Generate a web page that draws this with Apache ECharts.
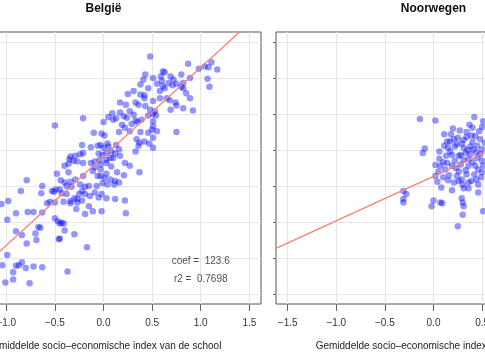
<!DOCTYPE html>
<html><head><meta charset="utf-8">
<script src="https://cdn.jsdelivr.net/npm/echarts@6/dist/echarts.min.js"></script>
<style>html,body{margin:0;padding:0;background:#fff}#c{width:485px;height:360px}</style>
</head><body><div id="c"></div>
<script>
// ---- data ----
const belgiumSES = [0.48,0.61,0.63,0.59,0.87,0.98,1.04,1.08,1.11,1.17,
1.07,1.09,0.80,0.72,0.69,0.51,0.43,0.41,0.38,0.46,
0.55,0.60,0.61,0.58,0.63,0.71,0.75,0.82,0.82,0.89,
0.85,0.89,0.92,0.82,0.74,0.69,0.65,0.58,0.51,0.42,
0.38,0.31,0.25,0.33,0.36,0.23,0.43,0.48,0.53,0.27,
0.31,0.21,0.17,0.24,0.33,0.39,0.51,0.29,0.19,0.22,
0.27,0.38,0.50,0.55,0.51,0.75,0.68,0.75,0.35,0.54,
0.46,0.42,0.51,0.80,0.67,0.09,0.05,0.00,0.10,0.13,
-0.21,-0.50,-0.10,-0.02,0.16,0.17,
0.34,0.37,0.42,0.51,0.51,0.33,0.17,0.22,0.27,0.21,0.37,0.22,0.23,
0.46,0.36,0.47,0.01,0.04,-0.06,-0.03,0.05,0.13,0.00,
0.08,0.03,0.12,0.16,0.10,0.07,-0.01,-0.05,-0.22,-0.13,
-0.21,-0.24,-0.29,-0.34,-0.35,-0.31,-0.27,-0.21,-0.13,-0.09,
-0.04,0.03,-0.36,-0.40,-0.36,-0.48,-0.44,-0.40,-0.34,-0.29,
-0.21,-0.11,-0.09,-0.03,-0.06,-0.03,0.01,0.03,-0.03,0.03,
0.08,0.14,0.12,0.16,0.11,0.04,-0.01,-0.07,-0.79,-0.63,
-0.64,-0.53,-0.51,-0.49,-0.45,-0.38,-0.34,-0.30,-0.27,-0.22,
-0.27,-0.34,-0.41,-0.43,-0.55,-0.58,-0.63,-0.72,-0.78,-0.90,
-0.98,-0.85,-0.19,-0.14,-0.09,-0.15,-0.11,-0.05,0.03,0.12,
-0.19,-0.28,-0.02,-1.05,-0.38,-0.33,-0.24,-0.19,-0.15,0.07,
-0.25,-0.22,-0.02,-0.50,-0.99,-0.67,-0.65,-0.50,-0.47,-0.45,
-0.43,-0.41,-0.40,-0.30,-0.17,-0.46,-0.45,-0.90,-0.84,-0.70,
-0.69,-0.79,-0.99,-1.04,-0.90,-0.87,-0.84,-0.80,-0.72,-0.63,
-0.93,-0.93,-1.01,-0.76,-0.37];
const belgiumScore = [630,609,608,602,620,613,616,615,622,612,
599,588,605,598,602,600,605,598,591,586,
592,596,589,582,586,590,592,593,586,600,
579,572,555,558,566,556,572,572,568,572,
577,582,578,566,563,563,561,556,554,554,
549,547,552,545,541,542,540,536,535,531,
526,525,528,526,533,525,569,562,539,548,
548,576,550,588,593,551,546,539,542,544,
544,534,524,523,525,566,
515,510,512,517,503,498,492,482,478,465,469,430,412,
524,506,509,520,509,506,507,505,507,503,
498,496,495,501,489,489,493,495,507,504,
496,494,492,491,487,485,484,482,482,484,
486,486,481,478,469,467,458,455,456,459,
464,471,476,473,464,464,461,467,480,482,
477,469,457,455,452,452,454,450,458,450,
440,443,442,445,445,439,429,433,432,430,
427,426,428,440,428,426,413,414,414,412,
429,443,439,436,441,422,415,434,433,432,
411,418,415,425,450,449,452,449,450,459,
439,443,439,427,403,393,392,405,401,398,
399,398,388,383,365,376,377,387,382,384,
375,370,354,340,339,340,344,336,338,337,
330,320,316,315,331];
const norwaySES = [-0.14,0.02,0.42,0.50,0.11,0.18,0.17,0.21,0.34,0.34,
0.43,0.48,-0.09,-0.11,0.06,0.15,0.22,0.29,0.38,0.41,
0.50,0.33,0.26,0.19,0.13,0.06,0.14,0.22,0.28,0.36,
0.45,0.50,0.43,0.36,0.02,0.07,0.19,0.31,0.38,0.12,
0.46,0.51,0.02,0.10,0.24,0.29,0.34,0.42,0.49,0.39,
0.04,0.21,0.26,0.36,0.19,0.31,0.36,0.46,-0.31,-0.28,
-0.31,-0.31,0.00,0.07,0.09,-0.02,0.29,0.30,0.31,0.30,
0.25,0.51,0.51,0.25,0.45,0.11,0.40,0.26,0.16,0.46,0.08,
0.20,0.27,0.37,0.47,0.31,0.40,0.14,0.24,0.35,0.44,
0.17,0.28,0.48,0.10,0.31,0.40,0.23,0.33,0.50,0.15,
0.44,0.30,0.05,0.39,0.53];
const norwayScore = [543,541,546,532,522,522,512,515,525,518,
519,515,502,496,498,503,505,509,505,501,
501,496,492,493,492,488,482,485,480,487,
489,485,478,478,479,478,478,503,494,473,
473,478,464,462,464,459,466,466,462,457,
456,455,457,455,444,447,447,441,443,439,
432,427,430,427,426,422,433,427,422,410,
394,415,540,517,506,506,531,470,465,452,448,
530,527,535,526,514,511,512,508,500,497,
498,493,494,483,486,483,475,472,469,458,
459,452,470,520,510];
const belgiumFit = {intercept: 491, coef: 123.6, r2: 0.7698};
const norwayFit = {intercept: 463.5, coef: 61.9};
const xTicks = [-1.5,-1,-0.5,0,0.5,1,1.5];
const yTicks = [300,350,400,450,500,550,600,650];
const xLim = [-1.62, 1.62];
const yLim = [286, 664];
const panelTitles = ['België','Noorwegen'];
const xTitle = 'Gemiddelde socio\u2013economische index van de school';

// ---- chart ----
const font = '"Liberation Sans", Arial, Helvetica, sans-serif';
const zip = (a,b) => a.map((v,i)=>[v,b[i]]);
const fitLine = f => xLim.map(x => [x, f.intercept + f.coef*x]);
const fmt = v => (v<0?'\u2212':'') + Math.abs(v).toFixed(1);
const gridPos = [{left:-54},{left:276}];

function xAxisCfg(gi){ return {
  type:'value', gridIndex:gi, min:xLim[0], max:xLim[1], position:'bottom',
  axisLine:{show:false, onZero:false},
  axisTick:{show:true, length:7, customValues:xTicks, lineStyle:{color:'#666'}},
  axisLabel:{show:true, customValues:xTicks, margin:14, fontSize:10, color:'#333', fontFamily:font, formatter:fmt},
  splitLine:{show:true, lineStyle:{color:'#e6e6e6', width:1}},
  name:xTitle, nameLocation:'middle', nameGap:37,
  nameTextStyle:{fontSize:10, color:'#222', fontFamily:font}
};}
function yAxisCfg(gi){ return {
  type:'value', gridIndex:gi, min:yLim[0], max:yLim[1], position:'left',
  axisLine:{show:false, onZero:false},
  axisTick:{show:true, length:3, customValues:yTicks, lineStyle:{color:'#666'}},
  axisLabel:{show:false, customValues:yTicks},
  splitLine:{show:true, lineStyle:{color:'#e6e6e6', width:1}}
};}
const pointStyle = {color:'rgba(0,0,255,0.52)'};
const fitStyle = {color:'#FA8072', width:1.3};

const chart = echarts.init(document.getElementById('c'), null, {renderer:'canvas'});
chart.setOption({
  animation:false,
  backgroundColor:'#fff',
  grid: gridPos.map(g => ({left:g.left, top:32, width:315, height:272, show:true,
    borderColor:'#555', borderWidth:1, backgroundColor:'transparent', outerBoundsMode:'none'})),
  xAxis:[xAxisCfg(0), xAxisCfg(1)],
  yAxis:[yAxisCfg(0), yAxisCfg(1)],
  graphic: panelTitles.map((t,i) => ({
    type:'text', x: gridPos[i].left + 315/2, y: 9, silent:true,
    style:{text:t, fontSize:12, fontWeight:'bold', fontFamily:font, fill:'#111', align:'center', verticalAlign:'middle'}
  })),
  series:[
    {type:'scatter', xAxisIndex:0, yAxisIndex:0, data:zip(belgiumSES, belgiumScore),
     symbolSize:6.5, itemStyle:pointStyle, silent:true, z:2},
    {type:'line', xAxisIndex:0, yAxisIndex:0, data:fitLine(belgiumFit), showSymbol:false, symbol:'none',
     lineStyle:fitStyle, clip:true, silent:true, z:3},
    {type:'scatter', xAxisIndex:0, yAxisIndex:0, symbolSize:0, silent:true, z:4,
     data:[[1.0, 345, 'coef =  ' + belgiumFit.coef], [1.0, 320, 'r2 =  ' + belgiumFit.r2]],
     label:{show:true, position:'inside', formatter:p=>p.data[2], fontSize:10, color:'#222', fontFamily:font}},
    {type:'scatter', xAxisIndex:1, yAxisIndex:1, data:zip(norwaySES, norwayScore),
     symbolSize:6.5, itemStyle:pointStyle, silent:true, z:2},
    {type:'line', xAxisIndex:1, yAxisIndex:1, data:fitLine(norwayFit), showSymbol:false, symbol:'none',
     lineStyle:fitStyle, clip:true, silent:true, z:3}
  ]
});
</script></body></html>
